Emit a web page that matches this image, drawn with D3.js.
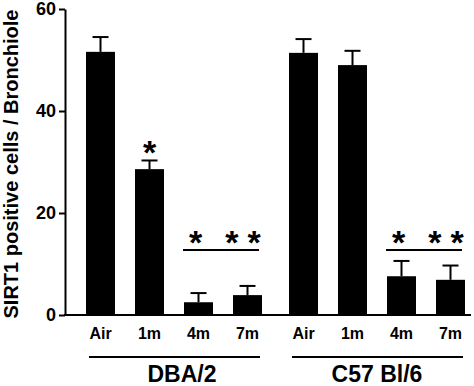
<!DOCTYPE html>
<html>
<head>
<meta charset="utf-8">
<script src="https://cdn.jsdelivr.net/npm/d3@7"></script>
<style>
body { margin: 0; background: #fff; }
text { font-family: "Liberation Sans", Arial, sans-serif; font-weight: bold; }
</style>
</head>
<body>
<div id="chart"></div>
<script>
// values
let groups = ["DBA/2", "C57 Bl/6"];
let times = ["Air", "1m", "4m", "7m"];
let dbaMeans = [51.6, 28.6, 2.5, 3.9];
let dbaErr = [2.9, 1.7, 1.8, 1.8];
let c57Means = [51.4, 49.0, 7.6, 6.9];
let c57Err = [2.7, 2.8, 3.0, 2.8];
let yTicks = [0, 20, 40, 60];
let dbaStars = ["", "*", "*", "**"];
let c57Stars = ["", "", "*", "**"];

let w = 474, h = 386;
let svg = d3.select("#chart").append("svg").attr("width", w).attr("height", h);

let y = d3.scaleLinear().domain([0, 60]).range([315, 9]);
let gx = d3.scaleBand().domain(groups).range([76, 475]).paddingInner(0.0345);
let x = d3.scaleBand().domain(times).range([0, gx.bandwidth()]).paddingInner(0.408).paddingOuter(0.204);

let data = [];
for (let i = 0; i < times.length; i++) {
  data.push({g: groups[0], t: times[i], v: dbaMeans[i], e: dbaErr[i], s: dbaStars[i]});
}
for (let i = 0; i < times.length; i++) {
  data.push({g: groups[1], t: times[i], v: c57Means[i], e: c57Err[i], s: c57Stars[i]});
}
let bx = d => gx(d.g) + x(d.t);
let mid = d => bx(d) + x.bandwidth() / 2;

// y axis
let yAxis = d3.axisLeft(y).tickValues(yTicks).tickSize(6).tickSizeOuter(0).tickPadding(3);
let ya = svg.append("g").attr("transform", "translate(65,0)").call(yAxis);
ya.select(".domain").attr("stroke", "#000").attr("stroke-width", 2);
ya.selectAll(".tick line").attr("stroke-width", 2);
ya.selectAll(".tick text").style("font-size", "18px").attr("fill", "#000");

// baseline
svg.append("line").attr("x1", 64).attr("x2", 471).attr("y1", y(0)).attr("y2", y(0))
  .attr("stroke", "#000").attr("stroke-width", 2);

// error bars (upper only)
svg.selectAll(".err").data(data).enter().append("line")
  .attr("x1", mid).attr("x2", mid)
  .attr("y1", d => y(d.v)).attr("y2", d => y(d.v + d.e))
  .attr("stroke", "#000").attr("stroke-width", 2);
svg.selectAll(".cap").data(data).enter().append("line")
  .attr("x1", d => mid(d) - 8).attr("x2", d => mid(d) + 8)
  .attr("y1", d => y(d.v + d.e)).attr("y2", d => y(d.v + d.e))
  .attr("stroke", "#000").attr("stroke-width", 2);

// bars
svg.selectAll(".bar").data(data).enter().append("rect")
  .attr("x", bx).attr("width", x.bandwidth())
  .attr("y", d => y(d.v)).attr("height", d => y(0) - y(d.v))
  .attr("fill", "#000");

// category labels
svg.selectAll(".cat").data(data).enter().append("text")
  .attr("x", mid).attr("y", 339)
  .attr("text-anchor", "middle").style("font-size", "16px").text(d => d.t);

// stars: 1m star sits on its error bar, 4m/7m stars over a bracket
svg.selectAll(".star").data(data.filter(d => d.s != "")).enter().append("text")
  .attr("x", mid)
  .attr("y", d => d.t == "1m" ? y(d.v + d.e) + 4 : 254)
  .attr("dx", d => d.t == "4m" ? -3 : 0)
  .attr("text-anchor", "middle").style("font-size", "34px")
  .attr("letter-spacing", d => d.s.length > 1 ? "9px" : "0px")
  .text(d => d.s);

let labelShift = [-2, -10];
groups.forEach((g, i) => {
  svg.append("line")
    .attr("x1", gx(g) + x("4m") - 1).attr("x2", gx(g) + x("7m") + x.bandwidth() - 3)
    .attr("y1", 250).attr("y2", 250).attr("stroke", "#000").attr("stroke-width", 2);
  svg.append("line")
    .attr("x1", gx(g) + x("Air") + 3).attr("x2", gx(g) + x("7m") + x.bandwidth() - 2)
    .attr("y1", 357).attr("y2", 357).attr("stroke", "#000").attr("stroke-width", 2);
  svg.append("text")
    .attr("x", gx(g) + x("4m") + labelShift[i]).attr("y", 382)
    .attr("text-anchor", "middle").style("font-size", "23px").text(g);
});

// y title
svg.append("text").attr("transform", "translate(18,164) rotate(-90)")
  .attr("text-anchor", "middle").style("font-size", "20px")
  .text("SIRT1 positive cells / Bronchiole");
</script>
</body>
</html>
